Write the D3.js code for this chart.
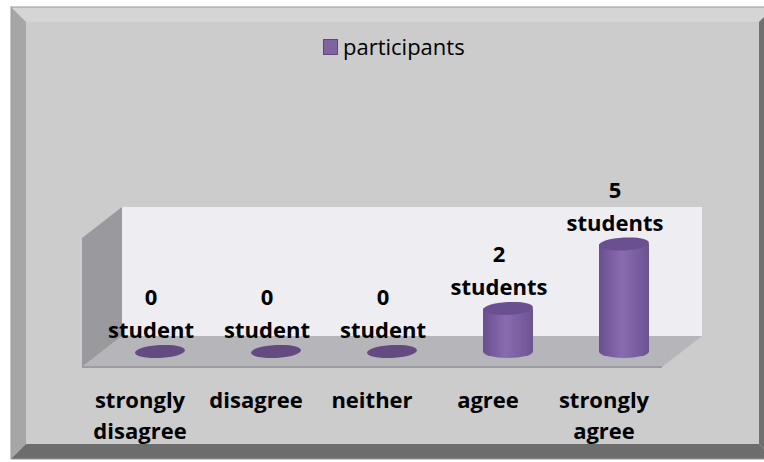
<!DOCTYPE html>
<html>
<head>
<meta charset="utf-8">
<script src="https://cdn.jsdelivr.net/npm/d3@7"></script>
<style>
  body { margin: 0; background: #fff; }
  text { font-family: "Open Sans", sans-serif; fill: #000; }
  .dlabel, .cat { font-weight: bold; font-size: 22px; }
  .legend text { font-size: 22px; }
</style>
</head>
<body>
<script>
// chart data
var categories = ["strongly disagree", "disagree", "neither", "agree", "strongly agree"];
var tickLines = [["strongly", "disagree"], ["disagree"], ["neither"], ["agree"], ["strongly", "agree"]];
var values = [0, 0, 0, 2, 5];
var labelUnits = ["student", "student", "student", "students", "students"];
var seriesName = "participants";
var yMax = 6;

// canvas and 3d box geometry
var width = 764, height = 462;
var floorLeft = 82, floorRight = 662, floorY = 367;
var depthX = 40, depthY = -31;
var wallHeight = 129;

var svg = d3.select("body").append("svg")
    .attr("width", width)
    .attr("height", height);

// gradient for cylinders
var defs = svg.append("defs");
var grad = defs.append("linearGradient").attr("id", "cyl")
    .attr("x1", "0%").attr("x2", "100%").attr("y1", "0%").attr("y2", "0%");
grad.append("stop").attr("offset", "0%").attr("stop-color", "#694f8e");
grad.append("stop").attr("offset", "45%").attr("stop-color", "#8a6bb1");
grad.append("stop").attr("offset", "100%").attr("stop-color", "#6c5393");

/// FRAME ///
var fx0 = 11, fy0 = 7, fx1 = 774, fy1 = 459, bev = 15;
var frame = svg.append("g");
frame.append("rect")
    .attr("x", fx0).attr("y", fy0)
    .attr("width", fx1 - fx0).attr("height", fy1 - fy0)
    .attr("fill", "#cccccc");
// top bevel
frame.append("path")
    .attr("d", "M" + fx0 + "," + fy0 + "L" + fx1 + "," + fy0 + "L" + (fx1 - bev) + "," + (fy0 + bev) +
        "L" + (fx0 + bev) + "," + (fy0 + bev) + "Z")
    .attr("fill", "#d5d5d5");
// left bevel
frame.append("path")
    .attr("d", "M" + fx0 + "," + fy0 + "L" + (fx0 + bev) + "," + (fy0 + bev) + "L" + (fx0 + bev) + "," + (fy1 - bev) +
        "L" + fx0 + "," + fy1 + "Z")
    .attr("fill", "#a6a6a6");
// bottom bevel
frame.append("path")
    .attr("d", "M" + fx0 + "," + fy1 + "L" + (fx0 + bev) + "," + (fy1 - bev) + "L" + (fx1 - bev) + "," + (fy1 - bev) +
        "L" + fx1 + "," + fy1 + "Z")
    .attr("fill", "#6d6d6d");
// right bevel
frame.append("path")
    .attr("d", "M" + fx1 + "," + fy0 + "L" + (fx1 - bev) + "," + (fy0 + bev) + "L" + (fx1 - bev) + "," + (fy1 - bev) +
        "L" + fx1 + "," + fy1 + "Z")
    .attr("fill", "#707070");
frame.append("rect")
    .attr("x", fx0).attr("y", fy0)
    .attr("width", fx1 - fx0).attr("height", fy1 - fy0)
    .attr("fill", "none").attr("stroke", "#999").attr("stroke-width", 1);

/// SCALES ///
var x = d3.scaleBand().domain(categories).range([floorLeft, floorRight]);
var h = d3.scaleLinear().domain([0, yMax]).range([0, wallHeight]);

var backY = floorY + depthY;
var midY = floorY + depthY / 2;

/// WALLS ///
// back wall
svg.append("rect")
    .attr("x", floorLeft + depthX).attr("y", backY - h(yMax))
    .attr("width", floorRight - floorLeft).attr("height", h(yMax))
    .attr("fill", "#eeedf1");

// side wall
svg.append("path")
    .attr("d", "M" + floorLeft + "," + floorY +
        "L" + (floorLeft + depthX) + "," + backY +
        "L" + (floorLeft + depthX) + "," + (backY - h(yMax)) +
        "L" + floorLeft + "," + (floorY - h(yMax)) + "Z")
    .attr("fill", "#9a999e");

// floor
svg.append("path")
    .attr("d", "M" + floorLeft + "," + floorY +
        "L" + floorRight + "," + floorY +
        "L" + (floorRight + depthX) + "," + backY +
        "L" + (floorLeft + depthX) + "," + backY + "Z")
    .attr("fill", "#b6b5ba");
svg.append("rect")
    .attr("x", floorLeft).attr("y", floorY - 1)
    .attr("width", floorRight - floorLeft).attr("height", 2)
    .attr("fill", "#9c9ba0");

/// CYLINDERS ///
var rx = 25, ry = 6.5;
function cx(c) { return x(c) + x.bandwidth() / 2 + depthX / 2; }

var bars = svg.selectAll(".bar")
    .data(values)
    .enter().append("g")
    .attr("class", "bar");

bars.each(function(v, i) {
  var g = d3.select(this);
  var c = cx(categories[i]);
  var top = midY - h(v);
  if (v > 0) {
    g.append("path")
        .attr("d", "M" + (c - rx) + "," + top +
            "L" + (c - rx) + "," + midY +
            "A" + rx + "," + ry + " 0 0 0 " + (c + rx) + "," + midY +
            "L" + (c + rx) + "," + top + "Z")
        .attr("fill", "url(#cyl)");
  }
  g.append("ellipse")
      .attr("cx", c).attr("cy", top)
      .attr("rx", rx).attr("ry", ry)
      .attr("transform", "rotate(-3," + c + "," + top + ")")
      .attr("fill", v > 0 ? "#6a5090" : "#634b82");
});

// data labels
bars.each(function(v, i) {
  var c = cx(categories[i]) - 9;
  var base = midY - h(v) - ry - 7;
  var t = d3.select(this).append("text")
      .attr("class", "dlabel")
      .attr("text-anchor", "middle");
  t.append("tspan").attr("x", c).attr("y", base - 33).text(v);
  t.append("tspan").attr("x", c).attr("y", base).text(labelUnits[i]);
});

/// CATEGORY LABELS ///
svg.selectAll(".cat")
    .data(categories)
    .enter().append("text")
    .attr("class", "cat")
    .attr("text-anchor", "middle")
    .each(function(d, i) {
      var t = d3.select(this);
      tickLines[i].forEach(function(line, j) {
        t.append("tspan")
            .attr("x", x(d) + x.bandwidth() / 2)
            .attr("y", 408 + j * 31)
            .text(line);
      });
    });

/// LEGEND ///
var legend = svg.append("g").attr("class", "legend");
legend.append("rect")
    .attr("x", 323.5).attr("y", 39.5)
    .attr("width", 14).attr("height", 15)
    .attr("fill", "#8064a2").attr("stroke", "#5d4878");
legend.append("text")
    .attr("x", 343).attr("y", 55)
    .text(seriesName);
</script>
</body>
</html>
